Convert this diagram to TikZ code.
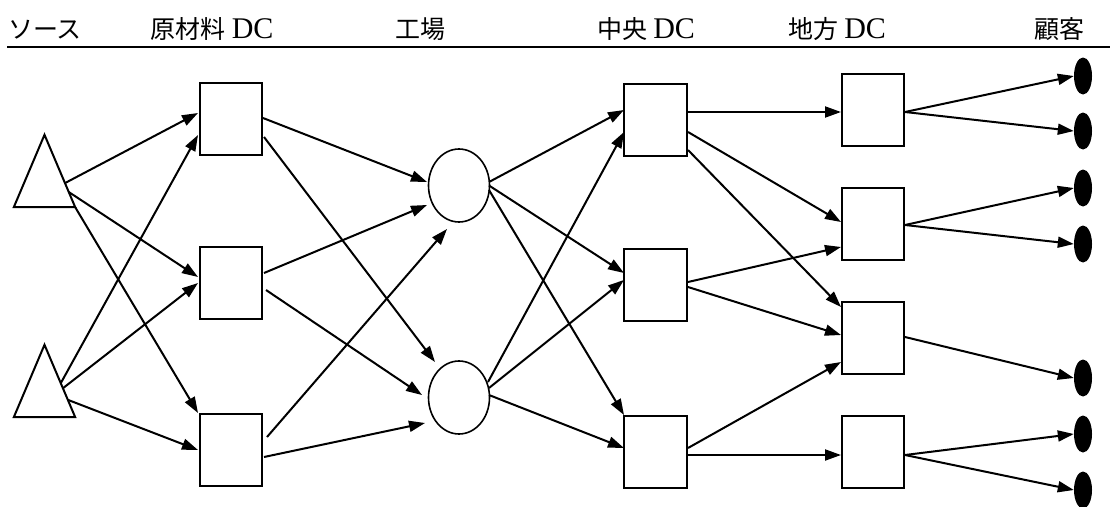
\documentclass[tikz,border=0pt]{standalone}
\usepackage{fontspec}
\setmainfont{Liberation Serif}
\newfontfamily\jp{Noto Sans CJK JP}
\newcommand{\dcword}{{\fontsize{30pt}{32pt}\selectfont DC}}
\usetikzlibrary{arrows.meta,shapes.geometric,calc}
\begin{document}
\begin{tikzpicture}[x=1pt,y=-1pt,
  box/.style={draw,line width=2pt,minimum width=62pt,minimum height=72pt,inner sep=0pt},
  plant/.style={draw,ellipse,line width=1.6pt,minimum width=61pt,minimum height=73pt,inner sep=0pt},
  cust/.style={fill=black,ellipse,minimum width=18pt,minimum height=37pt,inner sep=0pt},
  src/.style={minimum width=61pt,minimum height=72pt,inner sep=0pt},
  arr/.style={line width=2pt,-{Triangle[length=16pt,width=11pt]}},
  head/.style={anchor=base,font=\fontsize{25pt}{27pt}\selectfont,inner sep=0pt}]
\useasboundingbox (0,0) rectangle (1110,506);
% headers
\node[head] (h1) at (45,38) {\jp ソース};
\node[head] (h2) at (212,38) {{\jp 原材料} \dcword};
\node[head] (h3) at (420,38) {\jp 工場};
\node[head] (h4) at (646,38) {{\jp 中央} \dcword};
\node[head] (h5) at (837,38) {{\jp 地方} \dcword};
\node[head] (h6) at (1059,38) {\jp 顧客};
\coordinate (hl) at (7,47);
\coordinate (hr) at (1110,47);
\draw[line width=2.2pt] (hl) -- (hr);
% sources
\node[src] (s1) at (44.5,171) {};
\node[src] (s2) at (44.5,381) {};
\draw[line width=2pt,line join=miter] (s1.north) -- (s1.south east) -- (s1.south west) -- cycle;
\draw[line width=2pt,line join=miter] (s2.north) -- (s2.south east) -- (s2.south west) -- cycle;
% raw DC
\node[box] (r1) at (231,118.5) {};
\node[box] (r2) at (231,282.5) {};
\node[box] (r3) at (231,450) {};
% plants
\node[plant] (f1) at (459,185.5) {};
\node[plant] (f2) at (459,397.5) {};
% central DC
\node[box,minimum width=63pt] (c1) at (655.5,120) {};
\node[box,minimum width=63pt] (c2) at (655.5,284.5) {};
\node[box,minimum width=63pt] (c3) at (655.5,452) {};
% regional DC
\node[box] (g1) at (873,110) {};
\node[box] (g2) at (873,224) {};
\node[box] (g3) at (873,338) {};
\node[box] (g4) at (873,452) {};
% customers
\node[cust] (k1) at (1083,76) {};
\node[cust] (k2) at (1083,131) {};
\node[cust] (k3) at (1083,188) {};
\node[cust] (k4) at (1083,244) {};
\node[cust] (k5) at (1083,378) {};
\node[cust] (k6) at (1083,434) {};
\node[cust] (k7) at (1083,490) {};
% sources -> raw DC
\draw[arr] ($(s1.north)!0.667!(s1.south east)$) -- ($(r1.west)+(-1,-5.5)$);
\draw[arr] ($(s1.north)!0.79!(s1.south east)$) -- ($(r2.west)+(-1,-5.5)$);
\draw[arr] (s1.south east) -- ($(r3.north west)+(-1,0)$);
\draw[arr] ($(s2.north)!0.53!(s2.south east)$) -- ($(r1.west)+(-1,16.5)$);
\draw[arr] ($(s2.north)!0.6!(s2.south east)$) -- ($(r2.west)+(-1,0.5)$);
\draw[arr] ($(s2.north)!0.76!(s2.south east)$) -- ($(r3.west)+(-1,0)$);
% raw DC -> plants
\draw[arr] ($(r1.east)+(0,-0.5)$) -- ($(f1.center)+(-32,-3.5)$);
\draw[arr] ($(r1.east)+(1,18.5)$) -- ($(f2.center)+(-24,-35.5)$);
\draw[arr] ($(r2.east)+(1,-9.5)$) -- ($(f1.center)+(-32,19.5)$);
\draw[arr] ($(r2.east)+(3,7.5)$) -- ($(f2.center)+(-37,-2.5)$);
\draw[arr] ($(r3.east)+(4,-13)$) -- ($(f1.center)+(-12,43.5)$);
\draw[arr] ($(r3.east)+(1,7)$) -- ($(f2.center)+(-34,25.5)$);
% plants -> central DC
\draw[arr] ($(f1.center)+(30,-3.5)$) -- ($(c1.west)+(1,-10)$);
\draw[arr] ($(f1.center)+(30,0)$) -- ($(c2.west)+(1,-11.5)$);
\draw[arr] ($(f1.center)+(30,4.5)$) -- ($(c3.north west)+(1,0)$);
\draw[arr] ($(f2.center)+(29,-15.5)$) -- ($(c1.west)+(1,12)$);
\draw[arr] ($(f2.center)+(30,-9.5)$) -- ($(c2.west)+(1,-4.5)$);
\draw[arr] ($(f2.center)+(30,-2.5)$) -- ($(c3.west)+(1,-4)$);
% central -> regional
\draw[arr] ($(c1.east)+(0,-8)$) -- ($(g1.west)+(0,2)$);
\draw[arr] ($(c1.east)+(0,12)$) -- ($(g2.west)+(0,-2)$);
\draw[arr] ($(c1.east)+(0,30)$) -- ($(g3.west)+(0,-31)$);
\draw[arr] ($(c2.east)+(0,-2.5)$) -- ($(g2.west)+(0,23)$);
\draw[arr] ($(c2.east)+(0,2.5)$) -- ($(g3.west)+(0,-3)$);
\draw[arr] ($(c3.east)+(0,-4)$) -- ($(g3.west)+(0,24)$);
\draw[arr] ($(c3.east)+(0,3)$) -- ($(g4.west)+(0,3)$);
% regional -> customers
\draw[arr] ($(g1.east)+(0,2)$) -- (k1.west);
\draw[arr] ($(g1.east)+(0,2)$) -- (k2.west);
\draw[arr] ($(g2.east)+(0,1)$) -- (k3.west);
\draw[arr] ($(g2.east)+(0,1)$) -- (k4.west);
\draw[arr] ($(g3.east)+(0,-1)$) -- (k5.west);
\draw[arr] ($(g4.east)+(0,3)$) -- (k6.west);
\draw[arr] ($(g4.east)+(0,3)$) -- (k7.west);
\end{tikzpicture}
\end{document}
